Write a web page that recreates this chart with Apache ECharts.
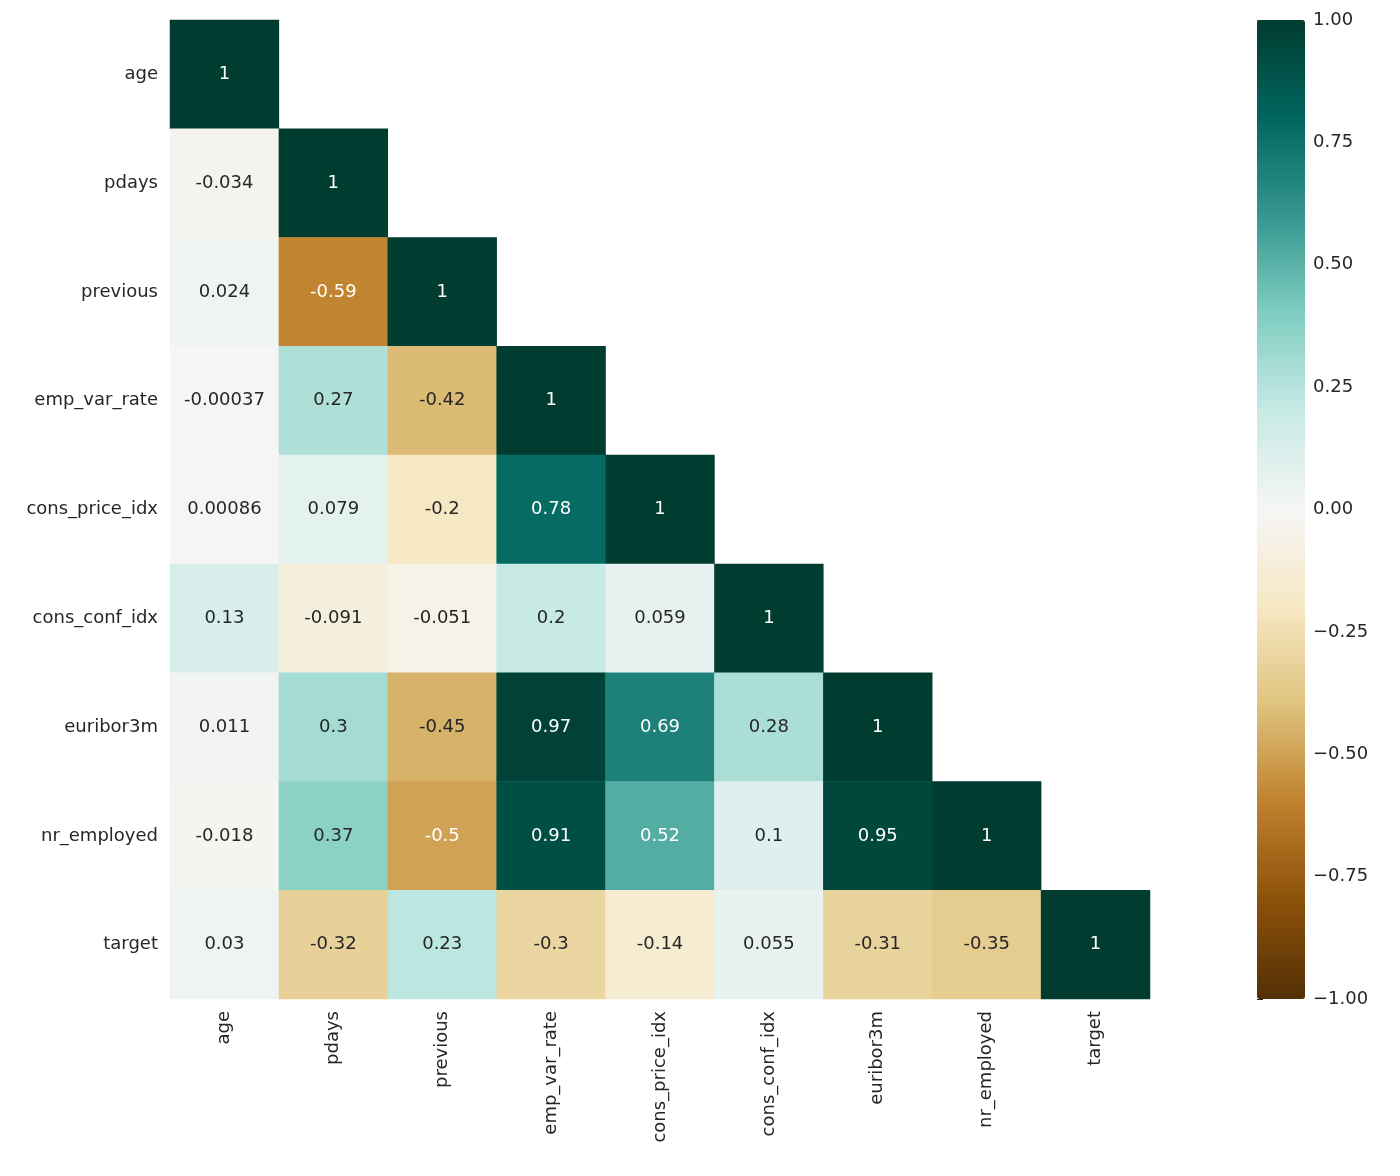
<!DOCTYPE html>
<html>
<head>
<meta charset="utf-8">
<script src="https://cdn.jsdelivr.net/npm/echarts@6/dist/echarts.min.js"></script>
<style>
  html, body { margin: 0; padding: 0; background: #fff; }
  #main { width: 1400px; height: 1176px; }
</style>
</head>
<body>
<div id="main"></div>
<script>
var names = ['age', 'pdays', 'previous', 'emp_var_rate', 'cons_price_idx',
  'cons_conf_idx', 'euribor3m', 'nr_employed', 'target'];

// lower triangle, row by row (incl. diagonal)
var rows = [
  [1],
  [-0.034, 1],
  [0.024, -0.59, 1],
  [-0.00037, 0.27, -0.42, 1],
  [0.00086, 0.079, -0.2, 0.78, 1],
  [0.13, -0.091, -0.051, 0.2, 0.059, 1],
  [0.011, 0.3, -0.45, 0.97, 0.69, 0.28, 1],
  [-0.018, 0.37, -0.5, 0.91, 0.52, 0.1, 0.95, 1],
  [0.03, -0.32, 0.23, -0.3, -0.14, 0.055, -0.31, -0.35, 1]
];

var brbg = ['#543005', '#8c510a', '#bf812d', '#dfc27d', '#f6e8c3', '#f5f5f5',
  '#c7eae5', '#80cdc1', '#35978f', '#01665e', '#003c30'];

var font = 'DejaVu Sans';
var textDark = '#262626';

var data = [];
rows.forEach(function (r, i) {
  r.forEach(function (v, j) {
    var light = (v >= 0.5 || v <= -0.5);
    data.push({
      value: [j, i, v],
      label: { color: light ? '#ffffff' : textDark }
    });
  });
});

var chart = echarts.init(document.getElementById('main'));
chart.setOption({
  animation: false,
  textStyle: { fontFamily: font },
  grid: [
    { left: 170, top: 20, width: 980, height: 979 },
    { left: 1257, top: 20, width: 48, height: 979 }
  ],
  xAxis: [{
    type: 'category', data: names, gridIndex: 0,
    axisLine: { show: false },
    axisTick: { alignWithLabel: true, length: 6, lineStyle: { color: textDark } },
    axisLabel: { rotate: 90, fontSize: 18, color: textDark, fontFamily: font, margin: 12 },
    splitLine: { show: false }
  }, {
    type: 'value', gridIndex: 1, show: false
  }],
  yAxis: [{
    type: 'category', data: names, inverse: true, gridIndex: 0,
    axisLine: { show: false },
    axisTick: { alignWithLabel: true, length: 6, lineStyle: { color: textDark } },
    axisLabel: { fontSize: 18, color: textDark, fontFamily: font, margin: 12 },
    splitLine: { show: false }
  }, {
    type: 'value', gridIndex: 1, min: -1, max: 1, interval: 0.25, position: 'right',
    axisLine: { show: false },
    axisTick: { show: true, length: 6, lineStyle: { color: textDark } },
    axisLabel: {
      fontSize: 18, color: textDark, fontFamily: font, margin: 8,
      formatter: function (v) { return v < 0 ? '\u2212' + Math.abs(v).toFixed(2) : v.toFixed(2); }
    },
    splitLine: { show: false }
  }],
  visualMap: {
    type: 'continuous', min: -1, max: 1, seriesIndex: 0,
    calculable: false, show: true, orient: 'vertical',
    left: 1257, top: 20, itemWidth: 48, itemHeight: 979, padding: 0,
    text: ['', ''], showLabel: false,
    inRange: { color: brbg }
  },
  series: [{
    type: 'heatmap', xAxisIndex: 0, yAxisIndex: 0,
    data: data,
    label: {
      show: true, fontSize: 18, fontFamily: font,
      formatter: function (p) { return String(p.value[2]); }
    },
    itemStyle: { borderWidth: 0 }
  }]
});
</script>
</body>
</html>
